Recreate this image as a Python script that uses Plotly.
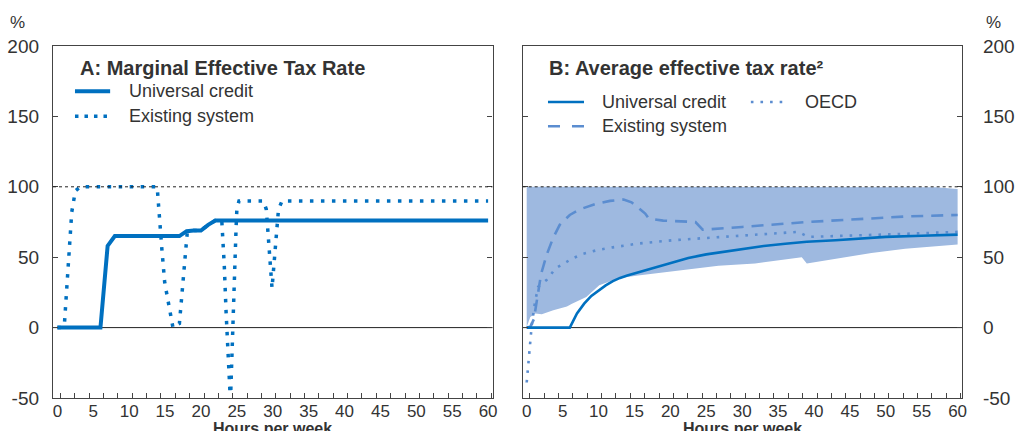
import plotly.graph_objects as go

# ---------------- data ----------------
# Panel A: marginal effective tax rate
uc_a_hours = [0, 6, 7, 8, 17, 18, 19, 20, 21, 22, 60]
uc_a_vals = [0, 0, 58, 65, 65, 68.5, 69, 69, 73, 76, 76]

es_a_hours = [0, 0.6, 1.0, 1.5, 2.0, 2.5, 3.2, 13.9, 14.25, 14.55, 14.95, 15.5, 16.1,
              17.0, 17.45, 17.8, 18.1, 19, 20, 21, 22, 22.9, 23.0, 23.25, 23.5, 23.8,
              24.05, 24.15, 24.35, 24.5, 24.7, 24.9, 25.0, 25.3, 28.7, 29.1, 29.9, 30.8,
              31.3, 60]
es_a_vals = [0, 0, 4, 45, 82, 97, 100, 100, 80, 56, 32, 15, 0,
             3, 28, 52, 68, 69, 69, 73, 76, 76, 69, 44, 11, -22,
             -47, -46, -10, 19, 44, 72, 84, 90, 90, 84, 28, 84,
             90, 90]

# Panel B: average effective tax rate
band_hours = [0, 0.5, 1.2, 2.1, 3.7, 5.6, 6.3, 8.3, 10.1, 11.5, 12.75, 15.5, 20.2,
              22.9, 26.7, 31.8, 37.8, 38.3, 39, 43.4, 48, 52.7, 57, 60]
band_low = [0.5, 7.5, 10, 9.5, 12.3, 15, 17, 21.7, 30, 32.4, 35, 37, 40,
            42, 44, 45.5, 49.7, 50, 45.5, 49, 53, 56, 57.5, 59]
band_high = [100, 100, 100, 100, 100, 100, 100, 100, 100, 100, 100, 100, 100,
             100, 100, 100, 100, 100, 100, 100, 100, 100, 99.7, 98.5]

uc_b_hours = [0, 6, 7, 8, 9, 10, 11, 12, 13, 14, 15, 16, 18, 19, 20, 22.5, 25, 27,
              30, 33, 36, 39, 43, 47, 50, 55, 60]
uc_b_vals = [0, 0, 10, 17, 22.5, 26.5, 30, 33, 35.3, 37, 38.5, 40, 43, 44.5, 46,
             49.5, 52, 53.5, 56, 58, 59.5, 61, 62, 63.5, 64.4, 65.2, 66]

es_b_hours = [0, 0.5, 1.0, 1.5, 2.0, 2.8, 3.7, 4.6, 6.0, 7.4, 9.7, 11.6, 13.5, 14.6,
              15.5, 16.5, 17.0, 19, 23.5, 24.5, 30, 39, 48, 53, 60]
es_b_vals = [0, 0.5, 6, 22, 38, 52, 64, 73, 80, 84, 88, 90, 91, 89,
             85, 81, 77.5, 76, 75, 69.5, 71.5, 75, 77.5, 79, 80]

oecd_hours = [0, 0.45, 0.7, 1.15, 1.6, 2.8, 4.0, 5.2, 6.3, 7.9, 9.8, 12, 15.5, 20.2,
              24.8, 29.5, 34, 37.8, 39.2, 43.4, 52.7, 60]
oecd_vals = [-39, -15, 1.6, 18, 29, 34, 42, 45.5, 49, 52.5, 55, 57, 59.7, 62,
             63.6, 65, 66.5, 68, 64.4, 65, 66.6, 68]

x_tick_vals = list(range(0, 61, 5))
x_tick_text = [str(v) for v in x_tick_vals]
y_tick_vals = [-50, 0, 50, 100, 150, 200]
y_tick_text = ["-50", "0", "50", "100", "150", "200"]

# ---------------- style ----------------
FONT = "Liberation Sans, Arial, Helvetica, sans-serif"
TXT = "#333333"
DARK = "#0070c0"
LIGHT = "#5b8dd0"
BAND = "rgb(158,185,224)"
FRAME = "#444444"

fig = go.Figure()

# Panel A traces
fig.add_trace(go.Scatter(x=es_a_hours, y=es_a_vals, mode="lines", name="Existing system",
                         line=dict(color=DARK, width=3.5, dash="3.5px,7.5px"),
                         xaxis="x", yaxis="y", showlegend=False))
fig.add_trace(go.Scatter(x=uc_a_hours, y=uc_a_vals, mode="lines", name="Universal credit",
                         line=dict(color=DARK, width=4),
                         xaxis="x", yaxis="y", showlegend=False))

# Panel B traces
fig.add_trace(go.Scatter(x=band_hours, y=band_low, mode="lines", line=dict(width=0, color=BAND),
                         xaxis="x2", yaxis="y2", showlegend=False, hoverinfo="skip"))
fig.add_trace(go.Scatter(x=band_hours, y=band_high, mode="lines", line=dict(width=0, color=BAND),
                         fill="tonexty", fillcolor=BAND, name="OECD range",
                         xaxis="x2", yaxis="y2", showlegend=False))
fig.add_trace(go.Scatter(x=oecd_hours, y=oecd_vals, mode="lines", name="OECD",
                         line=dict(color=LIGHT, width=2.6, dash="2.6px,7px"),
                         xaxis="x2", yaxis="y2", showlegend=False))
fig.add_trace(go.Scatter(x=es_b_hours, y=es_b_vals, mode="lines", name="Existing system",
                         line=dict(color=LIGHT, width=2.6, dash="12px,8px"),
                         xaxis="x2", yaxis="y2", showlegend=False))
fig.add_trace(go.Scatter(x=uc_b_hours, y=uc_b_vals, mode="lines", name="Universal credit",
                         line=dict(color=DARK, width=2.6),
                         xaxis="x2", yaxis="y2", showlegend=False))

xa_common = dict(
    tickmode="array", tickvals=x_tick_vals, ticktext=x_tick_text, automargin=False,
    ticks="", showgrid=False, zeroline=False, showline=True, linecolor=FRAME, linewidth=1.3,
    mirror=True, tickfont=dict(family=FONT, size=17, color=TXT), ticklabelstandoff=-3,
    minor=dict(ticks="inside", ticklen=5, tickcolor=FRAME, tickwidth=1, dtick=2, tick0=0.43,
               showgrid=False),
)
ya_common = dict(
    range=[-50, 200], tickmode="array", tickvals=y_tick_vals, ticktext=y_tick_text,
    automargin=False,
    ticks="inside", ticklen=5, tickcolor=FRAME, tickwidth=1,
    showgrid=False, zeroline=False, showline=True, linecolor=FRAME, linewidth=1.3,
    mirror="ticks", tickfont=dict(family=FONT, size=19, color=TXT),
)

fig.update_layout(
    width=1015, height=431,
    margin=dict(l=53, r=53, t=46, b=33),
    paper_bgcolor="white", plot_bgcolor="white",
    showlegend=False,
    xaxis=dict(domain=[0, 0.4835], range=[-0.61, 60.61], anchor="y", **xa_common),
    yaxis=dict(domain=[0, 1], anchor="x", side="left", ticklabelstandoff=9, **ya_common),
    xaxis2=dict(domain=[0.5167, 1], range=[-0.56, 60.61], anchor="y2", **xa_common),
    yaxis2=dict(domain=[0, 1], anchor="x2", side="right", ticklabelstandoff=16, **ya_common),
)

shapes = []
annotations = []
for xr, yr in (("x", "y"), ("x2", "y2")):
    # zero line
    shapes.append(dict(type="line", xref=f"{xr} domain", yref=yr, x0=0, x1=1, y0=0, y1=0,
                       line=dict(color="#222222", width=1), layer="below"))
    # 100 line
    shapes.append(dict(type="line", xref=f"{xr} domain", yref=yr, x0=0, x1=1, y0=100, y1=100,
                       line=dict(color="#222222", width=1, dash="3px,3px"), layer="above"))
    annotations.append(dict(text="<b>Hours per week</b>", xref=f"{xr} domain", yref="paper",
                            x=0.5, y=0, yanchor="top", yshift=-20, showarrow=False,
                            font=dict(family=FONT, size=16, color=TXT)))

# Panel A title & legend
annotations.append(dict(text="<b>A: Marginal Effective Tax Rate</b>", xref="x domain", yref="y domain",
                        x=0.057, y=0.937, xanchor="left", yanchor="middle", showarrow=False,
                        font=dict(family=FONT, size=20, color=TXT)))
shapes.append(dict(type="line", xref="x domain", yref="y domain", x0=0.05, x1=0.13, y0=0.8713, y1=0.8713,
                   line=dict(color=DARK, width=4)))
shapes.append(dict(type="line", xref="x domain", yref="y domain", x0=0.05, x1=0.13, y0=0.8003, y1=0.8003,
                   line=dict(color=DARK, width=3.5, dash="3.5px,6px")))
annotations.append(dict(text="Universal credit", xref="x domain", yref="y domain", x=0.168, y=0.8713,
                        xanchor="left", yanchor="middle", showarrow=False,
                        font=dict(family=FONT, size=18, color=TXT)))
annotations.append(dict(text="Existing system", xref="x domain", yref="y domain", x=0.168, y=0.8003,
                        xanchor="left", yanchor="middle", showarrow=False,
                        font=dict(family=FONT, size=18, color=TXT)))

# Panel B title & legend
annotations.append(dict(text="<b>B: Average effective tax rate²</b>", xref="x2 domain", yref="y2 domain",
                        x=0.056, y=0.937, xanchor="left", yanchor="middle", showarrow=False,
                        font=dict(family=FONT, size=20, color=TXT)))
shapes.append(dict(type="line", xref="x2 domain", yref="y2 domain", x0=0.0576, x1=0.1396, y0=0.8409, y1=0.8409,
                   line=dict(color=DARK, width=2.6)))
shapes.append(dict(type="line", xref="x2 domain", yref="y2 domain", x0=0.0576, x1=0.1396, y0=0.7719, y1=0.7719,
                   line=dict(color=LIGHT, width=2.6, dash="12px,12px")))
shapes.append(dict(type="line", xref="x2 domain", yref="y2 domain", x0=0.5194, x1=0.6014, y0=0.8409, y1=0.8409,
                   line=dict(color=LIGHT, width=2.6, dash="2.6px,7px")))
annotations.append(dict(text="Universal credit", xref="x2 domain", yref="y2 domain", x=0.177, y=0.8409,
                        xanchor="left", yanchor="middle", showarrow=False,
                        font=dict(family=FONT, size=18, color=TXT)))
annotations.append(dict(text="Existing system", xref="x2 domain", yref="y2 domain", x=0.177, y=0.7719,
                        xanchor="left", yanchor="middle", showarrow=False,
                        font=dict(family=FONT, size=18, color=TXT)))
annotations.append(dict(text="OECD", xref="x2 domain", yref="y2 domain", x=0.638, y=0.8409,
                        xanchor="left", yanchor="middle", showarrow=False,
                        font=dict(family=FONT, size=18, color=TXT)))

# % unit labels
annotations.append(dict(text="%", xref="paper", yref="paper", x=(17.5 - 53) / 909, y=1,
                        xanchor="center", yanchor="middle", yshift=24, showarrow=False,
                        font=dict(family=FONT, size=17, color=TXT)))
annotations.append(dict(text="%", xref="paper", yref="paper", x=(994 - 53) / 909, y=1,
                        xanchor="center", yanchor="middle", yshift=24, showarrow=False,
                        font=dict(family=FONT, size=17, color=TXT)))

fig.update_layout(shapes=shapes, annotations=annotations)
fig.write_html("out.html")
